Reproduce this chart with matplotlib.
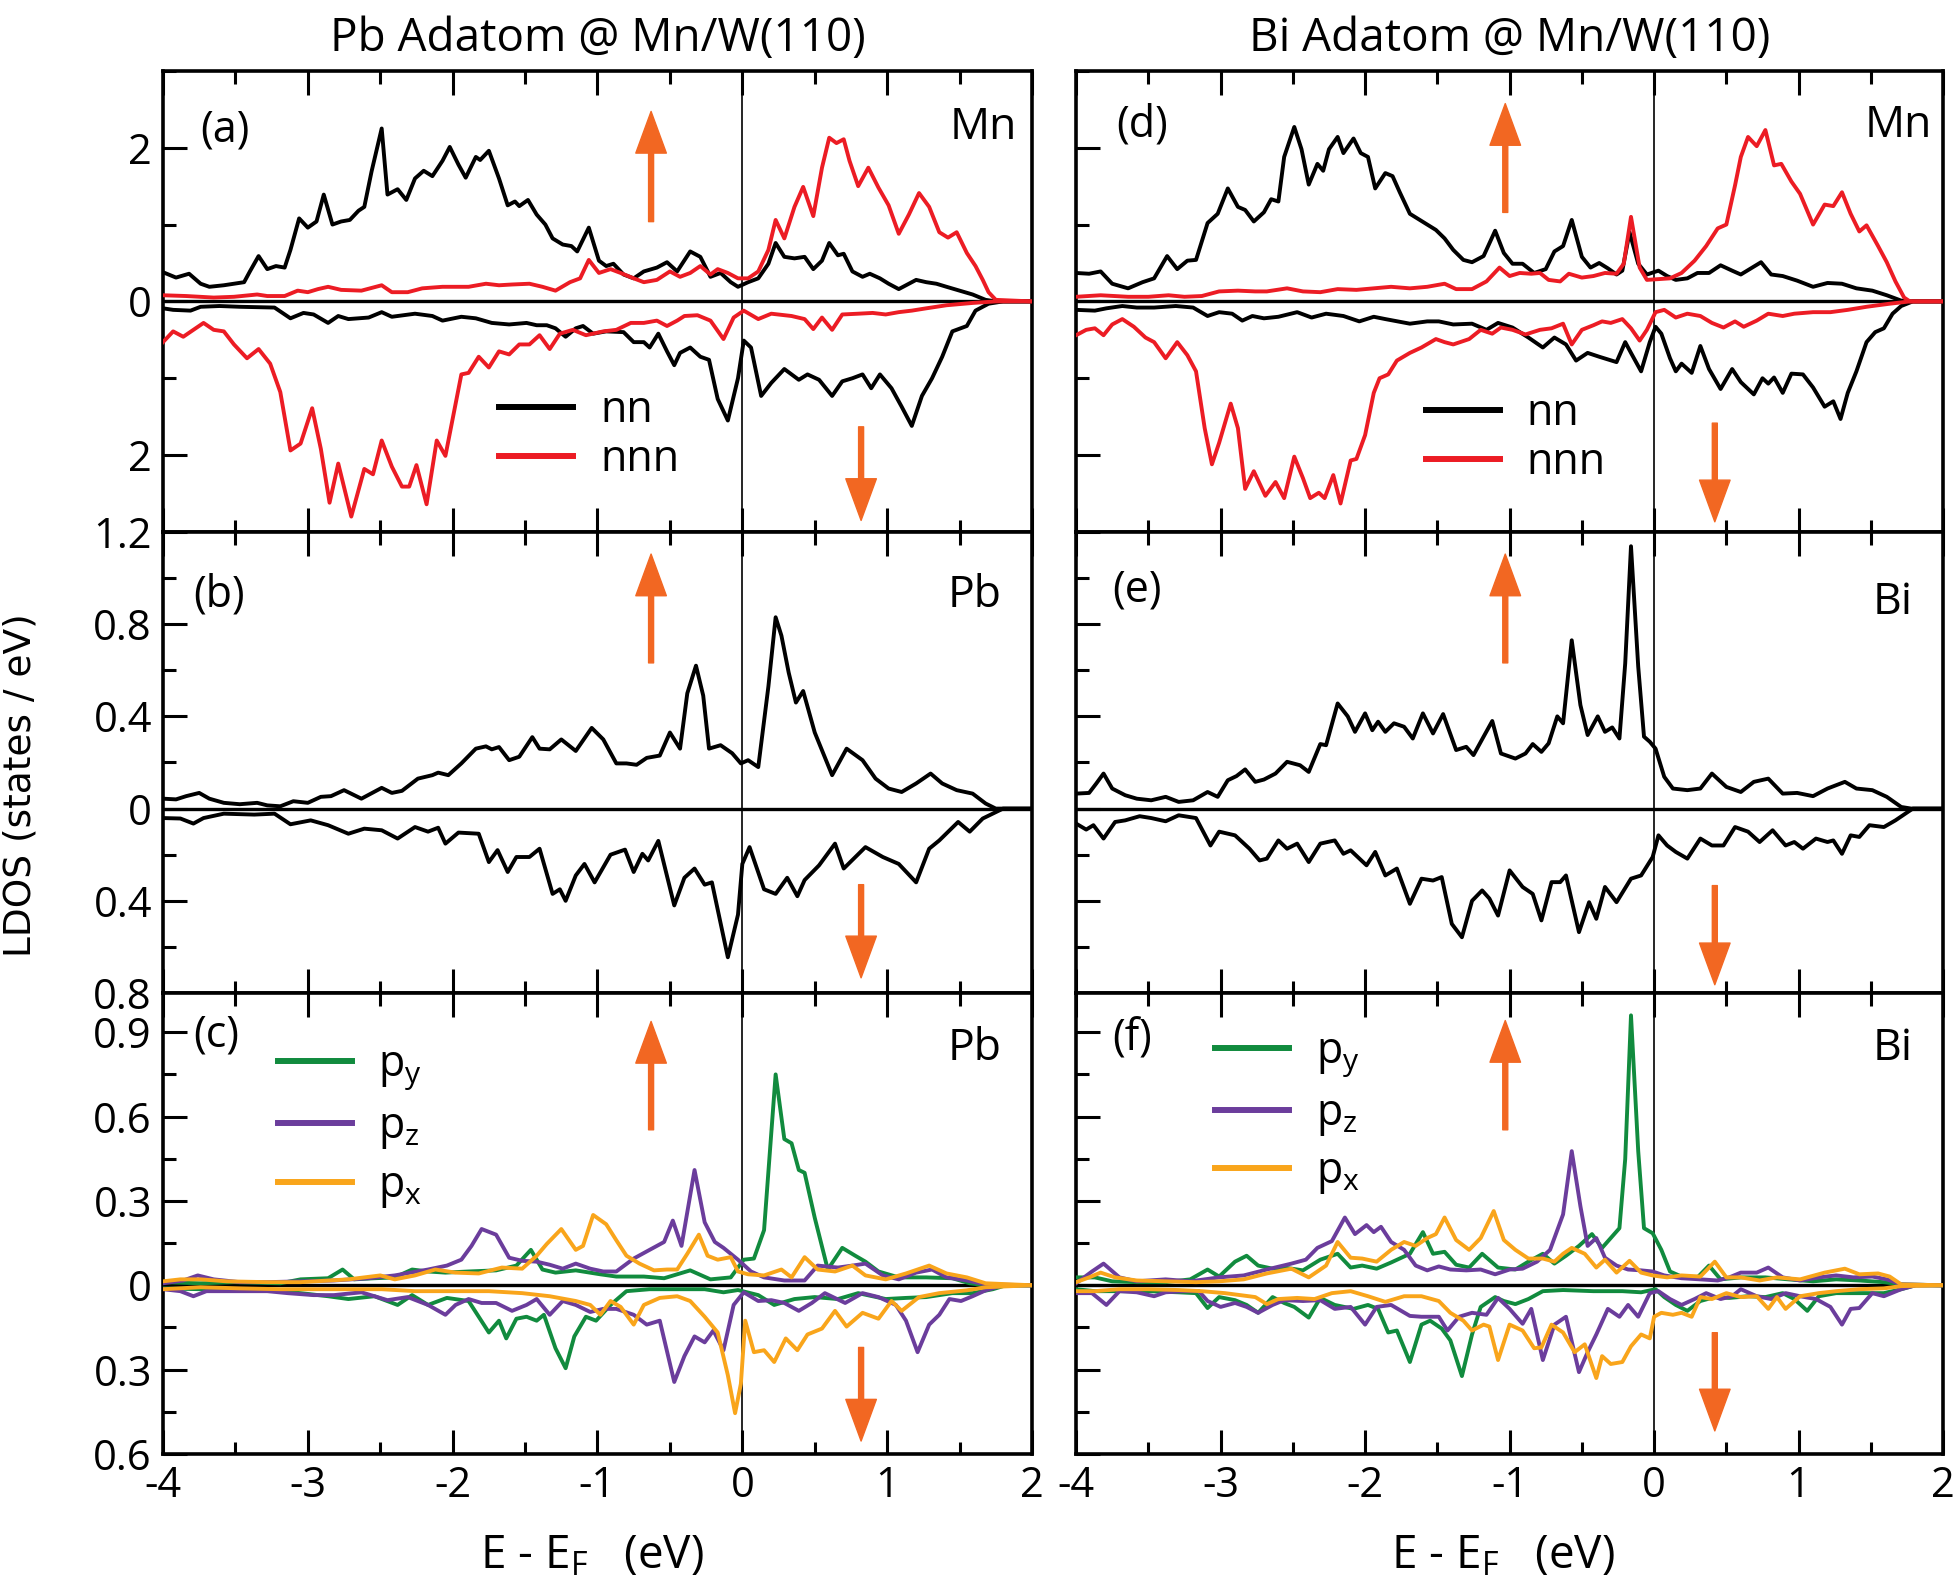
import numpy as np
import matplotlib.pyplot as plt
from matplotlib.lines import Line2D
from matplotlib.ticker import MultipleLocator, FuncFormatter

# ---- data: (energy in eV, LDOS in states/eV); spin-down lists hold magnitudes ----
a_nn_up = [(-4.00,0.38),(-3.91,0.31),(-3.82,0.36),(-3.74,0.23),(-3.68,0.19),(-3.58,0.21),(-3.51,0.23),(-3.44,0.25),(-3.40,0.39),(-3.34,0.59),(-3.28,0.42),(-3.22,0.46),(-3.16,0.44),(-3.12,0.67),(-3.06,1.08),(-3.00,0.96),(-2.94,1.04),(-2.89,1.39),(-2.83,1.00),(-2.77,1.04),(-2.71,1.06),(-2.65,1.18),(-2.61,1.23),(-2.56,1.69),(-2.49,2.25),(-2.45,1.39),(-2.38,1.46),(-2.32,1.32),(-2.26,1.60),(-2.20,1.70),(-2.14,1.63),(-2.07,1.83),(-2.02,2.01),(-1.96,1.78),(-1.91,1.61),(-1.84,1.88),(-1.81,1.84),(-1.75,1.96),(-1.68,1.60),(-1.62,1.25),(-1.57,1.30),(-1.54,1.24),(-1.48,1.32),(-1.42,1.13),(-1.36,1.00),(-1.31,0.82),(-1.24,0.74),(-1.18,0.72),(-1.14,0.65),(-1.06,0.96),(-0.99,0.53),(-0.94,0.46),(-0.89,0.49),(-0.82,0.35),(-0.75,0.30),(-0.68,0.39),(-0.59,0.44),(-0.52,0.51),(-0.45,0.39),(-0.36,0.65),(-0.29,0.58),(-0.22,0.32),(-0.15,0.37),(-0.08,0.25),(-0.03,0.19),(0.04,0.25),(0.11,0.30),(0.18,0.49),(0.23,0.76),(0.29,0.58),(0.36,0.56),(0.43,0.58),(0.49,0.42),(0.55,0.53),(0.60,0.76),(0.66,0.60),(0.70,0.62),(0.76,0.39),(0.83,0.32),(0.88,0.36),(0.95,0.30),(1.01,0.23),(1.08,0.16),(1.13,0.21),(1.20,0.28),(1.27,0.25),(1.34,0.23),(1.41,0.19),(1.50,0.14),(1.59,0.09),(1.68,0.02),(1.75,0.0),(2.00,0.0)]
a_nnn_up = [(-4.00,0.08),(-3.84,0.07),(-3.65,0.05),(-3.51,0.06),(-3.35,0.09),(-3.28,0.07),(-3.16,0.07),(-3.07,0.14),(-3.00,0.12),(-2.93,0.16),(-2.86,0.19),(-2.77,0.15),(-2.63,0.14),(-2.49,0.21),(-2.42,0.12),(-2.31,0.12),(-2.21,0.17),(-2.07,0.19),(-1.89,0.19),(-1.77,0.23),(-1.68,0.21),(-1.59,0.22),(-1.47,0.23),(-1.38,0.19),(-1.29,0.14),(-1.19,0.25),(-1.12,0.30),(-1.06,0.54),(-0.99,0.37),(-0.91,0.42),(-0.84,0.37),(-0.75,0.30),(-0.68,0.25),(-0.59,0.28),(-0.50,0.39),(-0.43,0.32),(-0.36,0.37),(-0.29,0.46),(-0.22,0.35),(-0.17,0.42),(-0.10,0.37),(-0.03,0.30),(0.04,0.30),(0.11,0.39),(0.18,0.67),(0.23,1.06),(0.29,0.82),(0.36,1.23),(0.42,1.49),(0.49,1.11),(0.55,1.74),(0.60,2.13),(0.65,2.06),(0.70,2.11),(0.74,1.83),(0.80,1.50),(0.87,1.74),(0.94,1.48),(1.01,1.25),(1.08,0.88),(1.15,1.13),(1.22,1.41),(1.29,1.23),(1.36,0.90),(1.42,0.83),(1.48,0.90),(1.55,0.63),(1.61,0.46),(1.66,0.28),(1.70,0.12),(1.75,0.02),(2.00,0.0)]
a_nn_dn = [(-4.00,0.09),(-3.93,0.11),(-3.81,0.12),(-3.74,0.07),(-3.61,0.06),(-3.47,0.07),(-3.23,0.08),(-3.12,0.22),(-3.03,0.15),(-2.96,0.17),(-2.86,0.28),(-2.79,0.19),(-2.72,0.23),(-2.58,0.21),(-2.49,0.14),(-2.42,0.20),(-2.26,0.16),(-2.14,0.19),(-2.07,0.25),(-1.94,0.20),(-1.84,0.22),(-1.73,0.28),(-1.61,0.30),(-1.49,0.28),(-1.42,0.31),(-1.35,0.31),(-1.29,0.35),(-1.22,0.46),(-1.15,0.35),(-1.10,0.32),(-1.03,0.42),(-0.94,0.39),(-0.82,0.40),(-0.75,0.53),(-0.68,0.53),(-0.64,0.60),(-0.58,0.42),(-0.52,0.65),(-0.47,0.83),(-0.43,0.67),(-0.36,0.60),(-0.29,0.72),(-0.23,0.76),(-0.17,1.27),(-0.10,1.55),(-0.03,1.00),(0.01,0.51),(0.06,0.60),(0.13,1.23),(0.20,1.06),(0.29,0.88),(0.39,1.02),(0.45,0.95),(0.53,1.02),(0.62,1.23),(0.69,1.04),(0.76,1.00),(0.83,0.95),(0.89,1.13),(0.95,0.95),(1.03,1.13),(1.10,1.37),(1.17,1.62),(1.24,1.23),(1.31,1.00),(1.38,0.72),(1.45,0.39),(1.55,0.32),(1.61,0.12),(1.70,0.03),(1.80,0.0),(2.00,0.0)]
a_nnn_dn = [(-4.00,0.53),(-3.93,0.39),(-3.86,0.46),(-3.79,0.37),(-3.72,0.28),(-3.65,0.37),(-3.58,0.39),(-3.51,0.56),(-3.42,0.74),(-3.34,0.62),(-3.26,0.81),(-3.19,1.18),(-3.12,1.94),(-3.05,1.85),(-2.97,1.39),(-2.91,1.92),(-2.85,2.62),(-2.79,2.11),(-2.70,2.80),(-2.61,2.18),(-2.55,2.25),(-2.49,1.81),(-2.42,2.15),(-2.35,2.41),(-2.30,2.41),(-2.25,2.13),(-2.18,2.64),(-2.11,1.81),(-2.05,2.01),(-1.94,0.95),(-1.89,0.93),(-1.82,0.72),(-1.75,0.86),(-1.68,0.65),(-1.61,0.69),(-1.54,0.56),(-1.47,0.56),(-1.40,0.44),(-1.33,0.62),(-1.26,0.42),(-1.17,0.37),(-1.08,0.44),(-0.96,0.39),(-0.87,0.37),(-0.77,0.28),(-0.68,0.28),(-0.59,0.25),(-0.52,0.32),(-0.45,0.25),(-0.40,0.19),(-0.31,0.18),(-0.22,0.25),(-0.13,0.49),(-0.06,0.21),(0.01,0.12),(0.11,0.23),(0.20,0.16),(0.34,0.19),(0.43,0.23),(0.49,0.36),(0.55,0.21),(0.62,0.37),(0.69,0.17),(0.80,0.16),(0.90,0.15),(0.99,0.17),(1.08,0.14),(1.17,0.12),(1.27,0.09),(1.41,0.05),(1.59,0.02),(1.75,0.0),(2.00,0.0)]

b_up = [(-4.00,0.043),(-3.91,0.040),(-3.84,0.054),(-3.75,0.068),(-3.68,0.043),(-3.58,0.025),(-3.47,0.019),(-3.35,0.025),(-3.28,0.014),(-3.19,0.010),(-3.10,0.032),(-3.00,0.025),(-2.91,0.051),(-2.84,0.054),(-2.75,0.080),(-2.63,0.043),(-2.49,0.090),(-2.42,0.068),(-2.35,0.077),(-2.24,0.130),(-2.14,0.145),(-2.10,0.156),(-2.03,0.145),(-1.94,0.196),(-1.84,0.260),(-1.77,0.270),(-1.73,0.257),(-1.68,0.267),(-1.61,0.210),(-1.54,0.225),(-1.45,0.310),(-1.40,0.260),(-1.33,0.257),(-1.25,0.300),(-1.15,0.250),(-1.04,0.350),(-0.96,0.300),(-0.87,0.196),(-0.80,0.196),(-0.73,0.190),(-0.66,0.220),(-0.57,0.230),(-0.50,0.330),(-0.43,0.260),(-0.38,0.500),(-0.32,0.620),(-0.27,0.490),(-0.23,0.260),(-0.15,0.275),(-0.07,0.240),(-0.01,0.196),(0.04,0.210),(0.11,0.180),(0.18,0.530),(0.23,0.830),(0.27,0.750),(0.32,0.590),(0.37,0.460),(0.42,0.510),(0.50,0.330),(0.62,0.145),(0.72,0.260),(0.83,0.210),(0.92,0.130),(1.01,0.087),(1.10,0.072),(1.20,0.109),(1.30,0.152),(1.38,0.109),(1.48,0.080),(1.59,0.065),(1.68,0.022),(1.75,0.0),(2.00,0.0)]
b_dn = [(-4.00,0.041),(-3.88,0.043),(-3.79,0.065),(-3.72,0.041),(-3.58,0.022),(-3.37,0.026),(-3.23,0.022),(-3.12,0.068),(-2.98,0.051),(-2.86,0.072),(-2.72,0.109),(-2.61,0.087),(-2.49,0.094),(-2.38,0.130),(-2.26,0.080),(-2.17,0.100),(-2.10,0.083),(-2.05,0.152),(-1.96,0.104),(-1.82,0.109),(-1.75,0.232),(-1.69,0.180),(-1.62,0.275),(-1.56,0.210),(-1.47,0.210),(-1.40,0.174),(-1.31,0.370),(-1.26,0.350),(-1.22,0.400),(-1.15,0.290),(-1.09,0.240),(-1.02,0.320),(-0.91,0.200),(-0.81,0.178),(-0.75,0.275),(-0.69,0.196),(-0.65,0.225),(-0.58,0.140),(-0.47,0.420),(-0.40,0.300),(-0.33,0.260),(-0.26,0.330),(-0.21,0.320),(-0.10,0.645),(-0.03,0.460),(0.00,0.240),(0.05,0.167),(0.15,0.350),(0.23,0.370),(0.31,0.300),(0.38,0.380),(0.43,0.310),(0.53,0.246),(0.64,0.152),(0.70,0.260),(0.85,0.167),(0.97,0.210),(1.08,0.240),(1.20,0.320),(1.29,0.174),(1.36,0.138),(1.49,0.058),(1.57,0.100),(1.66,0.043),(1.80,0.0),(2.00,0.0)]

c_py_up = [(-4.00,0.011),(-3.74,0.007),(-3.51,0.011),(-3.19,0.007),(-3.05,0.021),(-2.86,0.025),(-2.76,0.056),(-2.68,0.021),(-2.54,0.025),(-2.40,0.028),(-2.28,0.056),(-2.17,0.049),(-2.05,0.045),(-1.89,0.049),(-1.70,0.053),(-1.56,0.070),(-1.46,0.126),(-1.38,0.056),(-1.29,0.045),(-1.15,0.053),(-0.98,0.039),(-0.87,0.031),(-0.68,0.031),(-0.54,0.025),(-0.36,0.053),(-0.22,0.021),(-0.08,0.028),(0.01,0.091),(0.08,0.095),(0.15,0.196),(0.23,0.750),(0.29,0.520),(0.34,0.505),(0.39,0.410),(0.43,0.400),(0.50,0.240),(0.59,0.056),(0.69,0.133),(0.78,0.105),(0.85,0.084),(0.94,0.049),(1.08,0.028),(1.27,0.028),(1.45,0.025),(1.57,0.007),(1.68,0.0),(2.00,0.0)]
c_pz_up = [(-4.00,0.007),(-3.86,0.017),(-3.76,0.035),(-3.65,0.021),(-3.47,0.011),(-3.28,0.011),(-3.05,0.014),(-2.82,0.017),(-2.58,0.025),(-2.40,0.035),(-2.17,0.056),(-2.04,0.070),(-1.94,0.091),(-1.87,0.140),(-1.80,0.200),(-1.70,0.180),(-1.61,0.098),(-1.52,0.087),(-1.42,0.084),(-1.33,0.073),(-1.24,0.059),(-1.15,0.077),(-1.05,0.059),(-0.96,0.049),(-0.87,0.049),(-0.75,0.095),(-0.64,0.126),(-0.54,0.154),(-0.48,0.230),(-0.42,0.140),(-0.33,0.410),(-0.26,0.224),(-0.19,0.154),(-0.13,0.133),(-0.03,0.091),(0.06,0.049),(0.15,0.028),(0.29,0.017),(0.43,0.017),(0.52,0.070),(0.66,0.063),(0.76,0.070),(0.85,0.077),(0.97,0.035),(1.08,0.021),(1.20,0.045),(1.31,0.056),(1.41,0.028),(1.55,0.017),(1.68,0.003),(2.00,0.0)]
c_px_up = [(-4.00,0.014),(-3.88,0.021),(-3.74,0.021),(-3.56,0.014),(-3.28,0.011),(-3.05,0.011),(-2.72,0.021),(-2.50,0.035),(-2.40,0.021),(-2.26,0.035),(-2.12,0.056),(-1.98,0.045),(-1.82,0.042),(-1.66,0.063),(-1.52,0.059),(-1.42,0.105),(-1.35,0.147),(-1.25,0.200),(-1.15,0.126),(-1.10,0.140),(-1.03,0.250),(-0.94,0.217),(-0.87,0.160),(-0.80,0.105),(-0.71,0.077),(-0.61,0.053),(-0.52,0.056),(-0.45,0.056),(-0.38,0.112),(-0.30,0.180),(-0.24,0.105),(-0.17,0.091),(-0.08,0.100),(-0.03,0.049),(0.04,0.039),(0.15,0.035),(0.27,0.056),(0.34,0.028),(0.43,0.100),(0.52,0.056),(0.64,0.049),(0.76,0.070),(0.85,0.035),(0.99,0.021),(1.13,0.042),(1.29,0.070),(1.41,0.042),(1.55,0.028),(1.68,0.007),(2.00,0.0)]
c_py_dn = [(-4.00,0.011),(-3.74,0.014),(-3.28,0.017),(-3.05,0.028),(-2.86,0.039),(-2.72,0.049),(-2.54,0.039),(-2.38,0.070),(-2.28,0.035),(-2.17,0.070),(-2.04,0.045),(-1.89,0.056),(-1.75,0.168),(-1.68,0.126),(-1.63,0.189),(-1.56,0.119),(-1.49,0.112),(-1.42,0.126),(-1.37,0.105),(-1.29,0.224),(-1.22,0.295),(-1.16,0.182),(-1.08,0.112),(-1.01,0.126),(-0.91,0.070),(-0.80,0.021),(-0.64,0.014),(-0.45,0.014),(-0.26,0.014),(-0.13,0.025),(-0.03,0.017),(0.11,0.035),(0.22,0.070),(0.36,0.049),(0.50,0.042),(0.66,0.049),(0.80,0.028),(0.99,0.049),(1.13,0.045),(1.27,0.042),(1.45,0.028),(1.59,0.028),(1.73,0.014),(1.82,0.0),(2.00,0.0)]
c_pz_dn = [(-4.00,0.014),(-3.88,0.021),(-3.79,0.039),(-3.70,0.021),(-3.51,0.021),(-3.28,0.021),(-3.14,0.028),(-2.96,0.035),(-2.82,0.035),(-2.63,0.025),(-2.45,0.053),(-2.31,0.042),(-2.17,0.070),(-2.05,0.105),(-1.98,0.070),(-1.89,0.049),(-1.80,0.063),(-1.70,0.063),(-1.59,0.091),(-1.49,0.070),(-1.42,0.049),(-1.33,0.105),(-1.24,0.056),(-1.15,0.070),(-1.05,0.095),(-0.96,0.084),(-0.87,0.084),(-0.75,0.105),(-0.66,0.140),(-0.57,0.126),(-0.47,0.344),(-0.40,0.252),(-0.33,0.182),(-0.26,0.203),(-0.20,0.161),(-0.13,0.231),(-0.06,0.070),(0.01,0.025),(0.11,0.056),(0.20,0.053),(0.29,0.063),(0.39,0.091),(0.48,0.063),(0.57,0.028),(0.71,0.063),(0.83,0.028),(0.94,0.042),(1.06,0.070),(1.13,0.126),(1.21,0.238),(1.29,0.140),(1.36,0.105),(1.43,0.049),(1.51,0.056),(1.59,0.039),(1.68,0.018),(1.80,0.0),(2.00,0.0)]
c_px_dn = [(-4.00,0.014),(-3.74,0.007),(-3.47,0.011),(-3.19,0.014),(-2.82,0.014),(-2.49,0.014),(-2.26,0.021),(-1.98,0.021),(-1.75,0.021),(-1.52,0.028),(-1.33,0.039),(-1.15,0.056),(-1.05,0.070),(-0.98,0.105),(-0.91,0.056),(-0.84,0.077),(-0.75,0.140),(-0.68,0.070),(-0.57,0.045),(-0.45,0.039),(-0.36,0.056),(-0.26,0.112),(-0.17,0.168),(-0.10,0.320),(-0.05,0.455),(-0.01,0.350),(0.02,0.126),(0.08,0.238),(0.15,0.231),(0.22,0.273),(0.30,0.189),(0.38,0.231),(0.45,0.175),(0.55,0.154),(0.64,0.091),(0.72,0.147),(0.83,0.098),(0.94,0.119),(1.03,0.056),(1.10,0.091),(1.22,0.042),(1.36,0.028),(1.55,0.018),(1.68,0.007),(2.00,0.0)]

d_nn_up = [(-4.00,0.37),(-3.91,0.36),(-3.83,0.39),(-3.75,0.23),(-3.64,0.17),(-3.54,0.25),(-3.46,0.30),(-3.37,0.59),(-3.30,0.42),(-3.23,0.53),(-3.17,0.54),(-3.09,1.02),(-3.02,1.14),(-2.95,1.47),(-2.88,1.23),(-2.83,1.19),(-2.77,1.04),(-2.70,1.16),(-2.65,1.33),(-2.60,1.30),(-2.56,1.88),(-2.49,2.27),(-2.44,1.98),(-2.39,1.52),(-2.33,1.79),(-2.29,1.70),(-2.25,1.98),(-2.19,2.14),(-2.15,1.93),(-2.08,2.12),(-2.03,1.93),(-1.98,1.88),(-1.93,1.47),(-1.86,1.67),(-1.81,1.63),(-1.76,1.42),(-1.69,1.14),(-1.63,1.07),(-1.57,1.00),(-1.51,0.93),(-1.45,0.82),(-1.39,0.67),(-1.32,0.54),(-1.26,0.51),(-1.18,0.59),(-1.10,0.92),(-1.04,0.63),(-0.98,0.49),(-0.91,0.49),(-0.83,0.37),(-0.75,0.42),(-0.69,0.65),(-0.63,0.72),(-0.57,1.06),(-0.50,0.58),(-0.44,0.44),(-0.38,0.50),(-0.32,0.43),(-0.26,0.35),(-0.22,0.40),(-0.17,0.90),(-0.11,0.49),(-0.05,0.35),(0.03,0.40),(0.09,0.33),(0.15,0.28),(0.23,0.30),(0.30,0.37),(0.38,0.37),(0.46,0.47),(0.54,0.40),(0.60,0.35),(0.67,0.43),(0.74,0.51),(0.81,0.35),(0.89,0.33),(0.99,0.27),(1.10,0.19),(1.20,0.24),(1.30,0.23),(1.40,0.17),(1.51,0.14),(1.61,0.08),(1.71,0.01),(1.79,0.0),(2.00,0.0)]
d_nnn_up = [(-4.00,0.06),(-3.83,0.08),(-3.64,0.06),(-3.50,0.06),(-3.36,0.08),(-3.25,0.06),(-3.13,0.07),(-3.01,0.13),(-2.88,0.14),(-2.76,0.13),(-2.68,0.13),(-2.54,0.17),(-2.43,0.13),(-2.31,0.12),(-2.19,0.16),(-2.06,0.15),(-1.94,0.17),(-1.82,0.19),(-1.69,0.17),(-1.57,0.19),(-1.45,0.23),(-1.37,0.16),(-1.26,0.16),(-1.16,0.26),(-1.07,0.44),(-1.00,0.33),(-0.93,0.37),(-0.85,0.36),(-0.79,0.37),(-0.73,0.28),(-0.65,0.26),(-0.59,0.36),(-0.50,0.31),(-0.42,0.33),(-0.34,0.37),(-0.26,0.36),(-0.21,0.49),(-0.16,1.10),(-0.10,0.44),(-0.05,0.28),(0.03,0.29),(0.11,0.30),(0.19,0.37),(0.28,0.53),(0.36,0.72),(0.44,0.95),(0.50,1.00),(0.56,1.51),(0.60,1.88),(0.65,2.14),(0.71,2.02),(0.77,2.23),(0.83,1.77),(0.88,1.79),(0.95,1.56),(1.01,1.40),(1.10,1.00),(1.18,1.26),(1.24,1.24),(1.30,1.42),(1.36,1.14),(1.42,0.91),(1.47,0.99),(1.55,0.72),(1.61,0.51),(1.67,0.26),(1.73,0.05),(1.77,0.0),(2.00,0.0)]
d_nn_dn = [(-4.00,0.11),(-3.87,0.12),(-3.79,0.09),(-3.68,0.06),(-3.58,0.08),(-3.46,0.08),(-3.31,0.06),(-3.19,0.08),(-3.09,0.19),(-3.01,0.14),(-2.92,0.16),(-2.85,0.25),(-2.78,0.19),(-2.70,0.22),(-2.60,0.20),(-2.47,0.14),(-2.37,0.21),(-2.27,0.16),(-2.15,0.19),(-2.04,0.26),(-1.94,0.20),(-1.86,0.23),(-1.69,0.29),(-1.57,0.26),(-1.49,0.26),(-1.39,0.30),(-1.26,0.29),(-1.16,0.37),(-1.08,0.28),(-0.98,0.34),(-0.87,0.47),(-0.77,0.60),(-0.69,0.47),(-0.61,0.56),(-0.54,0.77),(-0.46,0.67),(-0.38,0.72),(-0.26,0.79),(-0.20,0.53),(-0.16,0.67),(-0.09,0.91),(-0.03,0.53),(0.01,0.33),(0.05,0.42),(0.11,0.74),(0.15,0.91),(0.19,0.81),(0.26,0.93),(0.32,0.58),(0.38,0.88),(0.46,1.14),(0.54,0.88),(0.60,1.05),(0.69,1.21),(0.75,1.00),(0.79,1.07),(0.83,0.99),(0.89,1.19),(0.95,0.94),(1.03,0.95),(1.10,1.12),(1.18,1.37),(1.24,1.30),(1.29,1.53),(1.34,1.19),(1.40,0.91),(1.47,0.53),(1.53,0.40),(1.59,0.35),(1.65,0.16),(1.71,0.06),(1.79,0.0),(2.00,0.0)]
d_nnn_dn = [(-4.00,0.44),(-3.93,0.37),(-3.87,0.35),(-3.81,0.44),(-3.75,0.30),(-3.68,0.23),(-3.60,0.33),(-3.52,0.47),(-3.46,0.53),(-3.38,0.74),(-3.30,0.53),(-3.23,0.70),(-3.17,0.91),(-3.11,1.65),(-3.06,2.12),(-3.01,1.84),(-2.93,1.33),(-2.88,1.65),(-2.83,2.44),(-2.77,2.21),(-2.69,2.53),(-2.62,2.35),(-2.56,2.56),(-2.49,2.02),(-2.43,2.30),(-2.38,2.56),(-2.32,2.49),(-2.28,2.56),(-2.22,2.26),(-2.17,2.63),(-2.10,2.07),(-2.06,2.05),(-2.00,1.74),(-1.94,1.19),(-1.90,1.00),(-1.84,0.95),(-1.78,0.77),(-1.69,0.67),(-1.61,0.60),(-1.51,0.49),(-1.45,0.53),(-1.39,0.56),(-1.28,0.49),(-1.20,0.37),(-1.12,0.42),(-1.06,0.34),(-0.98,0.37),(-0.89,0.43),(-0.79,0.37),(-0.71,0.35),(-0.63,0.29),(-0.57,0.56),(-0.50,0.37),(-0.42,0.31),(-0.36,0.26),(-0.30,0.28),(-0.22,0.23),(-0.16,0.35),(-0.10,0.51),(-0.05,0.37),(0.01,0.14),(0.07,0.11),(0.15,0.21),(0.23,0.16),(0.32,0.19),(0.40,0.28),(0.48,0.34),(0.56,0.26),(0.62,0.33),(0.71,0.25),(0.79,0.16),(0.89,0.19),(0.97,0.16),(1.10,0.14),(1.22,0.14),(1.34,0.11),(1.47,0.07),(1.63,0.03),(1.77,0.0),(2.00,0.0)]

e_up = [(-4.00,0.065),(-3.91,0.068),(-3.86,0.109),(-3.81,0.152),(-3.75,0.087),(-3.66,0.058),(-3.58,0.043),(-3.48,0.036),(-3.38,0.051),(-3.29,0.029),(-3.19,0.036),(-3.09,0.072),(-3.02,0.051),(-2.95,0.123),(-2.89,0.141),(-2.83,0.170),(-2.76,0.116),(-2.70,0.126),(-2.62,0.152),(-2.54,0.203),(-2.45,0.188),(-2.39,0.159),(-2.31,0.280),(-2.27,0.275),(-2.19,0.456),(-2.12,0.400),(-2.07,0.333),(-2.00,0.413),(-1.95,0.340),(-1.91,0.377),(-1.86,0.333),(-1.80,0.370),(-1.73,0.355),(-1.67,0.304),(-1.60,0.413),(-1.53,0.326),(-1.46,0.410),(-1.37,0.254),(-1.30,0.268),(-1.25,0.232),(-1.18,0.312),(-1.12,0.380),(-1.06,0.239),(-0.96,0.217),(-0.89,0.239),(-0.84,0.280),(-0.78,0.246),(-0.73,0.283),(-0.67,0.400),(-0.63,0.370),(-0.57,0.730),(-0.51,0.449),(-0.46,0.319),(-0.39,0.400),(-0.34,0.333),(-0.29,0.352),(-0.24,0.304),(-0.20,0.630),(-0.16,1.138),(-0.11,0.616),(-0.07,0.312),(-0.03,0.290),(0.01,0.260),(0.07,0.138),(0.13,0.087),(0.23,0.080),(0.32,0.087),(0.40,0.152),(0.50,0.094),(0.60,0.072),(0.69,0.116),(0.79,0.130),(0.89,0.065),(0.99,0.068),(1.10,0.054),(1.20,0.087),(1.32,0.116),(1.40,0.087),(1.51,0.080),(1.61,0.051),(1.71,0.007),(1.78,0.0),(2.00,0.0)]
e_dn = [(-4.00,0.065),(-3.93,0.091),(-3.88,0.072),(-3.81,0.130),(-3.73,0.058),(-3.66,0.051),(-3.56,0.033),(-3.48,0.041),(-3.38,0.055),(-3.29,0.029),(-3.17,0.041),(-3.07,0.160),(-3.01,0.100),(-2.90,0.116),(-2.80,0.174),(-2.73,0.225),(-2.68,0.217),(-2.60,0.138),(-2.54,0.174),(-2.47,0.152),(-2.39,0.232),(-2.31,0.152),(-2.21,0.138),(-2.15,0.196),(-2.10,0.181),(-1.99,0.246),(-1.93,0.188),(-1.86,0.290),(-1.78,0.260),(-1.69,0.413),(-1.61,0.304),(-1.53,0.312),(-1.47,0.297),(-1.40,0.500),(-1.33,0.558),(-1.26,0.400),(-1.19,0.355),(-1.14,0.390),(-1.08,0.464),(-1.00,0.268),(-0.91,0.340),(-0.84,0.370),(-0.78,0.485),(-0.71,0.319),(-0.65,0.319),(-0.61,0.290),(-0.52,0.536),(-0.45,0.406),(-0.40,0.478),(-0.34,0.340),(-0.26,0.406),(-0.16,0.304),(-0.09,0.290),(-0.01,0.210),(0.03,0.116),(0.09,0.160),(0.15,0.188),(0.23,0.217),(0.32,0.130),(0.40,0.160),(0.48,0.160),(0.56,0.080),(0.65,0.100),(0.73,0.145),(0.82,0.094),(0.91,0.160),(0.97,0.145),(1.03,0.174),(1.12,0.130),(1.20,0.145),(1.24,0.138),(1.30,0.196),(1.36,0.116),(1.42,0.123),(1.49,0.072),(1.59,0.080),(1.67,0.051),(1.79,0.0),(2.00,0.0)]

f_py_up = [(-4.00,0.028),(-3.87,0.028),(-3.75,0.014),(-3.58,0.011),(-3.38,0.011),(-3.21,0.021),(-3.09,0.056),(-3.01,0.031),(-2.90,0.084),(-2.82,0.105),(-2.74,0.070),(-2.64,0.059),(-2.56,0.063),(-2.43,0.053),(-2.31,0.091),(-2.19,0.112),(-2.10,0.063),(-2.02,0.070),(-1.92,0.059),(-1.82,0.081),(-1.69,0.112),(-1.60,0.189),(-1.53,0.112),(-1.45,0.119),(-1.37,0.073),(-1.28,0.063),(-1.19,0.112),(-1.08,0.063),(-0.96,0.056),(-0.87,0.084),(-0.77,0.112),(-0.69,0.077),(-0.61,0.105),(-0.52,0.140),(-0.43,0.182),(-0.36,0.133),(-0.30,0.168),(-0.24,0.203),(-0.20,0.449),(-0.16,0.960),(-0.11,0.477),(-0.07,0.203),(-0.01,0.185),(0.05,0.126),(0.11,0.049),(0.19,0.031),(0.30,0.028),(0.38,0.070),(0.46,0.021),(0.60,0.028),(0.77,0.028),(0.93,0.021),(1.10,0.014),(1.26,0.021),(1.42,0.017),(1.59,0.011),(1.71,0.003),(2.00,0.0)]
f_pz_up = [(-4.00,0.007),(-3.89,0.049),(-3.81,0.077),(-3.70,0.028),(-3.58,0.014),(-3.38,0.021),(-3.21,0.014),(-3.01,0.028),(-2.84,0.035),(-2.68,0.056),(-2.51,0.077),(-2.41,0.091),(-2.33,0.133),(-2.23,0.157),(-2.14,0.241),(-2.07,0.182),(-1.99,0.214),(-1.94,0.189),(-1.89,0.208),(-1.82,0.154),(-1.73,0.126),(-1.65,0.070),(-1.57,0.053),(-1.49,0.067),(-1.41,0.056),(-1.30,0.053),(-1.20,0.056),(-1.10,0.039),(-1.00,0.056),(-0.91,0.059),(-0.81,0.084),(-0.72,0.126),(-0.68,0.182),(-0.63,0.252),(-0.57,0.477),(-0.51,0.281),(-0.46,0.140),(-0.40,0.168),(-0.34,0.098),(-0.26,0.070),(-0.18,0.056),(-0.09,0.053),(-0.01,0.049),(0.07,0.035),(0.19,0.025),(0.32,0.021),(0.44,0.017),(0.52,0.028),(0.60,0.045),(0.71,0.045),(0.79,0.063),(0.89,0.028),(1.01,0.017),(1.14,0.028),(1.26,0.035),(1.38,0.028),(1.51,0.031),(1.61,0.021),(1.71,0.003),(2.00,0.0)]
f_px_up = [(-4.00,0.011),(-3.91,0.028),(-3.83,0.045),(-3.73,0.028),(-3.58,0.017),(-3.38,0.014),(-3.17,0.011),(-3.01,0.014),(-2.84,0.021),(-2.68,0.042),(-2.51,0.059),(-2.39,0.028),(-2.27,0.070),(-2.19,0.154),(-2.10,0.098),(-2.02,0.095),(-1.92,0.084),(-1.82,0.126),(-1.73,0.154),(-1.65,0.140),(-1.57,0.168),(-1.51,0.182),(-1.45,0.241),(-1.37,0.161),(-1.28,0.126),(-1.20,0.168),(-1.11,0.264),(-1.04,0.161),(-0.96,0.126),(-0.87,0.095),(-0.77,0.095),(-0.69,0.084),(-0.63,0.112),(-0.57,0.133),(-0.48,0.112),(-0.40,0.063),(-0.34,0.091),(-0.26,0.045),(-0.17,0.087),(-0.09,0.045),(-0.01,0.035),(0.09,0.028),(0.19,0.035),(0.32,0.031),(0.42,0.084),(0.50,0.028),(0.60,0.028),(0.73,0.017),(0.85,0.028),(1.01,0.021),(1.18,0.045),(1.32,0.059),(1.42,0.039),(1.55,0.042),(1.63,0.031),(1.71,0.003),(2.00,0.0)]
f_py_dn = [(-4.00,0.014),(-3.87,0.021),(-3.70,0.021),(-3.50,0.021),(-3.29,0.025),(-3.17,0.028),(-3.09,0.081),(-3.01,0.042),(-2.90,0.053),(-2.82,0.070),(-2.74,0.098),(-2.64,0.042),(-2.56,0.063),(-2.49,0.077),(-2.39,0.115),(-2.31,0.045),(-2.21,0.070),(-2.08,0.084),(-1.98,0.070),(-1.91,0.084),(-1.84,0.168),(-1.78,0.161),(-1.69,0.273),(-1.61,0.140),(-1.55,0.126),(-1.47,0.154),(-1.41,0.196),(-1.33,0.323),(-1.26,0.175),(-1.20,0.077),(-1.10,0.042),(-1.04,0.056),(-0.96,0.067),(-0.87,0.049),(-0.77,0.021),(-0.63,0.017),(-0.42,0.021),(-0.22,0.021),(-0.09,0.025),(0.01,0.014),(0.07,0.042),(0.15,0.070),(0.23,0.091),(0.32,0.056),(0.42,0.042),(0.52,0.045),(0.65,0.039),(0.77,0.042),(0.89,0.028),(0.97,0.049),(1.06,0.091),(1.14,0.039),(1.26,0.028),(1.42,0.028),(1.59,0.028),(1.71,0.014),(1.81,0.0),(2.00,0.0)]
f_pz_dn = [(-4.00,0.028),(-3.89,0.028),(-3.79,0.070),(-3.70,0.021),(-3.58,0.025),(-3.46,0.039),(-3.38,0.025),(-3.25,0.021),(-3.15,0.021),(-3.09,0.056),(-3.00,0.077),(-2.90,0.063),(-2.82,0.077),(-2.74,0.098),(-2.64,0.070),(-2.56,0.053),(-2.43,0.056),(-2.31,0.053),(-2.21,0.084),(-2.10,0.077),(-2.00,0.140),(-1.92,0.077),(-1.82,0.070),(-1.69,0.109),(-1.61,0.112),(-1.49,0.112),(-1.43,0.161),(-1.35,0.112),(-1.26,0.098),(-1.16,0.105),(-1.08,0.045),(-1.00,0.084),(-0.91,0.137),(-0.85,0.084),(-0.77,0.266),(-0.69,0.140),(-0.61,0.112),(-0.52,0.309),(-0.46,0.238),(-0.40,0.175),(-0.32,0.084),(-0.24,0.112),(-0.18,0.070),(-0.11,0.112),(-0.03,0.028),(0.03,0.021),(0.11,0.049),(0.19,0.070),(0.28,0.049),(0.36,0.028),(0.46,0.049),(0.54,0.039),(0.60,0.014),(0.71,0.039),(0.81,0.049),(0.91,0.028),(1.01,0.039),(1.12,0.049),(1.22,0.077),(1.30,0.140),(1.36,0.084),(1.42,0.081),(1.51,0.028),(1.59,0.039),(1.71,0.014),(1.81,0.0),(2.00,0.0)]
f_px_dn = [(-4.00,0.021),(-3.87,0.021),(-3.70,0.014),(-3.50,0.014),(-3.29,0.017),(-3.13,0.021),(-2.97,0.028),(-2.76,0.042),(-2.68,0.067),(-2.60,0.049),(-2.47,0.045),(-2.35,0.049),(-2.23,0.028),(-2.10,0.021),(-1.98,0.039),(-1.86,0.059),(-1.73,0.039),(-1.61,0.039),(-1.49,0.056),(-1.41,0.098),(-1.32,0.126),(-1.26,0.161),(-1.18,0.140),(-1.14,0.147),(-1.08,0.266),(-1.00,0.140),(-0.91,0.161),(-0.83,0.224),(-0.78,0.221),(-0.71,0.140),(-0.63,0.168),(-0.55,0.238),(-0.48,0.210),(-0.40,0.330),(-0.36,0.252),(-0.30,0.280),(-0.22,0.273),(-0.16,0.217),(-0.09,0.175),(-0.03,0.189),(0.00,0.112),(0.05,0.098),(0.13,0.105),(0.19,0.098),(0.26,0.112),(0.32,0.042),(0.40,0.049),(0.50,0.028),(0.60,0.042),(0.71,0.039),(0.79,0.084),(0.85,0.042),(0.91,0.084),(1.01,0.039),(1.14,0.028),(1.26,0.021),(1.42,0.014),(1.59,0.011),(1.71,0.003),(2.00,0.0)]

titles = ['Pb Adatom @ Mn/W(110)', 'Bi Adatom @ Mn/W(110)']
panel_tags = [['(a)', '(b)', '(c)'], ['(d)', '(e)', '(f)']]
atoms = [['Mn', 'Pb', 'Pb'], ['Mn', 'Bi', 'Bi']]

RED = '#ec1c24'
GREEN = '#118b3e'
PURPLE = '#6b3d9c'
YELLOW = '#f9a51b'
ARROW = '#f26722'

plt.rcParams['font.family'] = ['Open Sans', 'DejaVu Sans']
plt.rcParams['mathtext.fontset'] = 'custom'
plt.rcParams['mathtext.rm'] = 'Open Sans'
plt.rcParams['mathtext.it'] = 'Open Sans:italic'
plt.rcParams['axes.unicode_minus'] = False

fig = plt.figure(figsize=(19.59, 15.96), dpi=100)
col_x = [0.0832, 0.5493]
col_w = [0.4436, 0.4426]
row_y = [0.6667, 0.3778, 0.0890]
row_h = 0.2889
ylims = [(-3, 3), (-0.8, 1.2), (-0.6, 1.04)]
ymaj = [2, 0.4, 0.3]
ymin = [1, 0.2, 0.15]

absfmt = FuncFormatter(lambda v, p: f'{abs(round(v, 2)):g}')


def curve(ax, pts, color, sign=1):
    e, v = zip(*pts)
    ax.plot(e, sign * np.array(v), color=color, lw=2.8, zorder=3)


axes = [[None] * 3 for _ in range(2)]
for c in range(2):
    for r in range(3):
        ax = fig.add_axes([col_x[c], row_y[r], col_w[c], row_h])
        axes[c][r] = ax
        ax.set_xlim(-4, 2)
        ax.set_ylim(*ylims[r])
        ax.xaxis.set_major_locator(MultipleLocator(1))
        ax.xaxis.set_minor_locator(MultipleLocator(0.5))
        ax.yaxis.set_major_locator(MultipleLocator(ymaj[r]))
        ax.yaxis.set_minor_locator(MultipleLocator(ymin[r]))
        ax.yaxis.set_major_formatter(absfmt)
        ax.tick_params(which='both', direction='in', top=True, bottom=True,
                       left=True, right=False, width=2.2, labelsize=30)
        ax.tick_params(which='major', length=17, pad=8)
        ax.tick_params(which='minor', length=9)
        ax.tick_params(axis='x', labelbottom=(r == 2))
        ax.tick_params(axis='y', labelleft=(c == 0))
        for s in ax.spines.values():
            s.set_linewidth(2.6)
        ax.axhline(0, color='k', lw=2.4, zorder=2)
        ax.axvline(0, color='k', lw=1.2, zorder=2)

# (a) / (d) Mn neighbours
for ax, nn_u, nnn_u, nn_d, nnn_d in [(axes[0][0], a_nn_up, a_nnn_up, a_nn_dn, a_nnn_dn),
                                     (axes[1][0], d_nn_up, d_nnn_up, d_nn_dn, d_nnn_dn)]:
    curve(ax, nn_u, 'k')
    curve(ax, nn_d, 'k', -1)
    curve(ax, nnn_u, RED)
    curve(ax, nnn_d, RED, -1)

# (b) / (e) adatom total
for ax, up, dn in [(axes[0][1], b_up, b_dn), (axes[1][1], e_up, e_dn)]:
    curve(ax, up, 'k')
    curve(ax, dn, 'k', -1)

# (c) / (f) adatom p orbitals
for ax, orb in [(axes[0][2], [(c_py_up, c_py_dn), (c_pz_up, c_pz_dn), (c_px_up, c_px_dn)]),
                (axes[1][2], [(f_py_up, f_py_dn), (f_pz_up, f_pz_dn), (f_px_up, f_px_dn)])]:
    for (up, dn), col in zip(orb, [GREEN, PURPLE, YELLOW]):
        curve(ax, up, col)
        curve(ax, dn, col, -1)

# legends
leg_pos = {(0, 0): (0.387, 0.312, 0.12), (1, 0): (0.403, 0.305, 0.10),
           (0, 2): (0.132, 0.893, 0.29), (1, 2): (0.160, 0.92, 0.27)}
for (c, r), (lx, ly, sp) in leg_pos.items():
    if r == 0:
        hs = [Line2D([], [], color='k', lw=4.3), Line2D([], [], color=RED, lw=4.3)]
        labs = ['nn', 'nnn']
    else:
        hs = [Line2D([], [], color=col, lw=4.3) for col in (GREEN, PURPLE, YELLOW)]
        labs = [r'p$_\mathrm{y}$', r'p$_\mathrm{z}$', r'p$_\mathrm{x}$']
    axes[c][r].legend(hs, labs, loc='upper left', bbox_to_anchor=(lx, ly), frameon=False,
                      fontsize=31, borderpad=0, borderaxespad=0, handlelength=1.72,
                      handletextpad=0.62, labelspacing=sp)

# panel tags and atom names
tag_pos = [[(-3.74, 0.871), (-3.79, 0.862), (-3.79, 0.909)],
           [(-3.725, 0.883), (-3.75, 0.873), (-3.75, 0.899)]]
atom_pos = [[(1.43, 0.877), (1.42, 0.862), (1.42, 0.879)],
            [(1.46, 0.88), (1.51, 0.846), (1.51, 0.879)]]
for c in range(2):
    for r in range(3):
        ax = axes[c][r]
        tr = ax.get_xaxis_transform()
        tx, ty = tag_pos[c][r]
        ax.text(tx, ty, panel_tags[c][r], transform=tr, fontsize=31, va='center', ha='left')
        mx, my = atom_pos[c][r]
        ax.text(mx, my, atoms[c][r], transform=tr, fontsize=32, va='center', ha='left')

# spin arrows
arrow_x = [(-0.63, 0.82), (-1.03, 0.42)]
arrow_y = [[((0.673, 0.912), (0.228, 0.025)), ((0.716, 0.952), (0.235, 0.033)), ((0.703, 0.938), (0.231, 0.028))],
           [((0.693, 0.929), (0.236, 0.022)), ((0.716, 0.952), (0.233, 0.018)), ((0.703, 0.94), (0.263, 0.05))]]
for c in range(2):
    for r in range(3):
        ax = axes[c][r]
        tr = ax.get_xaxis_transform()
        for xa, (tail, tip) in zip(arrow_x[c], arrow_y[c][r]):
            ax.annotate('', xy=(xa, tip), xycoords=tr, xytext=(xa, tail), textcoords=tr,
                        arrowprops=dict(width=3.6, headwidth=22, headlength=30,
                                        color=ARROW, shrink=0))

axes[0][0].set_title(titles[0], fontsize=33, pad=14)
axes[1][0].set_title(titles[1], fontsize=33, pad=14)

fig.text(0.0105, 0.508, 'LDOS (states / eV)', rotation=90, va='center', ha='center',
         fontsize=27, family='DejaVu Sans')
for xc in (0.302, 0.767):
    fig.text(xc, 0.017, r'E - E$_\mathrm{F}$   (eV)', ha='center', va='baseline', fontsize=33)

fig.savefig('out.png', dpi=100)
